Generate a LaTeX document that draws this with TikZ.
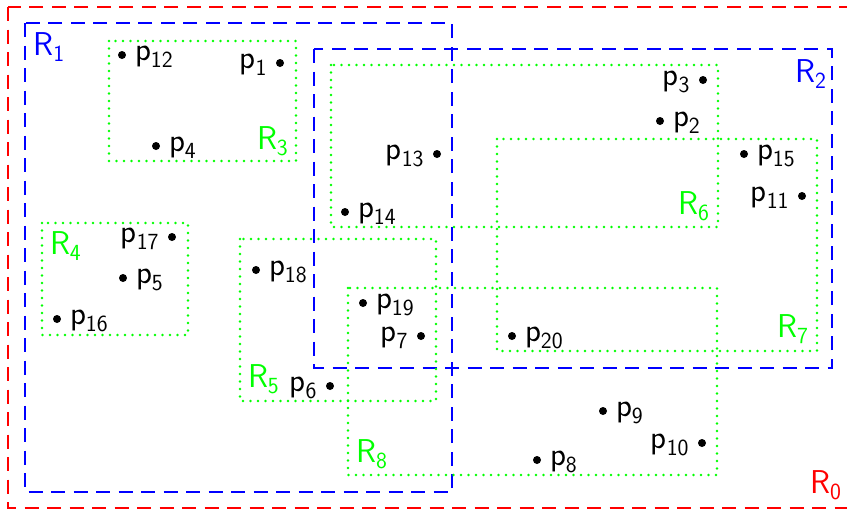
\documentclass[tikz,border=0pt]{standalone}
\begin{document}
\begin{tikzpicture}[x=1pt,y=-1pt,
  every node/.style={font=\sffamily\fontsize{33}{38}\selectfont, inner sep=0pt, outer sep=0pt},
  redreg/.style={draw=red, line width=2.6pt, dash pattern=on 14pt off 8.5pt},
  bluereg/.style={draw=blue, line width=2.6pt, dash pattern=on 14pt off 8.5pt},
  greenreg/.style={draw=green, line width=2.6pt, line cap=round, dash pattern=on 0pt off 7.5pt},
  ptdot/.style={circle, fill=black, minimum size=8pt},
  ptlab/.style={text=black},
  rlab/.style={anchor=base west}
]
\useasboundingbox (0,0) rectangle (847,515);

% regions
\draw[redreg] (8,7) rectangle (852,508);
\draw[bluereg] (25,23) rectangle (452,492);
\draw[bluereg] (314,49) rectangle (832,368);
\draw[greenreg] (109,41) rectangle (296,161);
\draw[greenreg] (42,223) rectangle (188,335);
\draw[greenreg] (240,239) rectangle (436,401);
\draw[greenreg] (331,65) rectangle (718,227);
\draw[greenreg] (497,139) rectangle (817,351);
\draw[greenreg] (348,288) rectangle (717,475);

% region labels
\node[rlab, text=red]   (r0) at (810,493) {R\textsubscript{0}};
\node[rlab, text=blue]  (r1) at (33.5,55) {R\textsubscript{1}};
\node[rlab, text=blue]  (r2) at (795,82)  {R\textsubscript{2}};
\node[rlab, text=green] (r3) at (257,149) {R\textsubscript{3}};
\node[rlab, text=green] (r4) at (50,254)  {R\textsubscript{4}};
\node[rlab, text=green] (r5) at (248,387) {R\textsubscript{5}};
\node[rlab, text=green] (r6) at (678,214) {R\textsubscript{6}};
\node[rlab, text=green] (r7) at (777,337) {R\textsubscript{7}};
\node[rlab, text=green] (r8) at (356,462) {R\textsubscript{8}};

% points with labels on the right
\foreach \n/\x/\y in {2/660/121, 4/156/146, 5/123/278, 8/537/460, 9/603/411,
                      12/122/55, 14/345/212, 15/744/154, 16/57/319, 18/256/270,
                      19/363/303, 20/512/336} {
  \node[ptdot] (p\n) at (\x,\y) {};
  \node[ptlab, anchor=base west] (l\n) at ([xshift=13pt,yshift=-5.5pt]p\n.center) {p\textsubscript{\n}};
}
% points with labels on the left
\foreach \n/\x/\y in {1/280/63, 3/703/80, 6/330/386, 7/421/336, 10/702/443,
                      11/802/196, 13/437/154, 17/172/237} {
  \node[ptdot] (p\n) at (\x,\y) {};
  \node[ptlab, anchor=base east] (l\n) at ([xshift=-13pt,yshift=-5.5pt]p\n.center) {p\textsubscript{\n}};
}
\end{tikzpicture}
\end{document}
